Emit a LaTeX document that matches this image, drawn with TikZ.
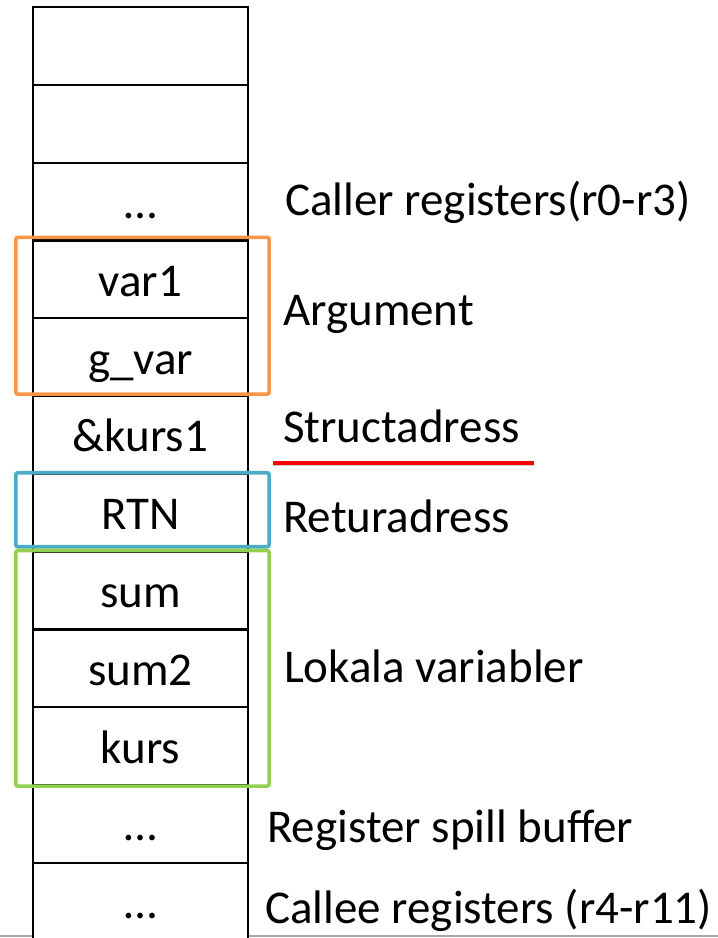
\documentclass[tikz,border=0pt]{standalone}
\usepackage{fontspec}
\setmainfont{Carlito}

\definecolor{argorange}{HTML}{F79646}
\definecolor{rtnblue}{HTML}{4BACC6}
\definecolor{localgreen}{HTML}{92D050}

\tikzset{
  cell/.style={draw, fill=white, line width=2.2pt, minimum width=215pt,
    minimum height=77.8pt, inner sep=0pt, text height=34pt, text depth=0pt},
  lbl/.style={anchor=base west, inner sep=0pt},
  group/.style={line width=3.6pt, rounded corners=2pt}
}

\begin{document}
\begin{tikzpicture}[x=1pt,y=-1pt,font=\fontsize{47}{53}\selectfont]
\useasboundingbox (0,0) rectangle (718,938);

% page edge
\draw[line width=2pt, black!35] (0,936) -- (718,936);

% the stack, one cell per row
\node(c1) at (140.5,45.9)[cell]{};
\node(c2) at (140.5,123.7)[cell]{};
\node(c3) at (140.5,201.5)[cell]{…};
\node(c4) at (140.5,279.3)[cell]{var1};
\node(c5) at (140.5,357.1)[cell]{g\_var};
\node(c6) at (140.5,434.9)[cell]{\&kurs1};
\node(c7) at (140.5,512.7)[cell]{RTN};
\node(c8) at (140.5,590.5)[cell]{sum};
\node(c9) at (140.5,668.3)[cell]{sum2};
\node(c10) at (140.5,746.1)[cell]{kurs};
\node(c11) at (140.5,823.9)[cell]{…};
\node(c12) at (140.5,901.7)[cell]{…};

% groups
\draw[group, argorange] ([xshift=-16pt,yshift=2pt]c4.north west) rectangle ([xshift=20pt,yshift=3pt]c5.south east);
\draw[group, rtnblue] ([xshift=-16pt]c7.north west) rectangle ([xshift=20pt,yshift=6pt]c7.south east);
\draw[group, localgreen] ([xshift=-16pt]c8.north west) rectangle ([xshift=20pt]c10.south east);

% labels
\node(caller) at (285,215)[lbl]{Caller registers(r0-r3)};
\node(arg) at (283,325)[lbl]{Argument};
\node(struct) at (283,442)[lbl]{Structadress};
\node(ret) at (283,532)[lbl]{Returadress};
\node(local) at (284,682)[lbl]{Lokala variabler};
\node(spill) at (267,842)[lbl]{Register spill buffer};
\node(callee) at (265,923)[lbl]{Callee registers (r4-r11)};

% underline
\coordinate (u1) at (273,463);
\coordinate (u2) at (534,463);
\draw[line width=5pt, black!20, yshift=-3pt] (u1) -- (u2);
\draw[line width=4pt, red] (u1) -- (u2);

\end{tikzpicture}
\end{document}
